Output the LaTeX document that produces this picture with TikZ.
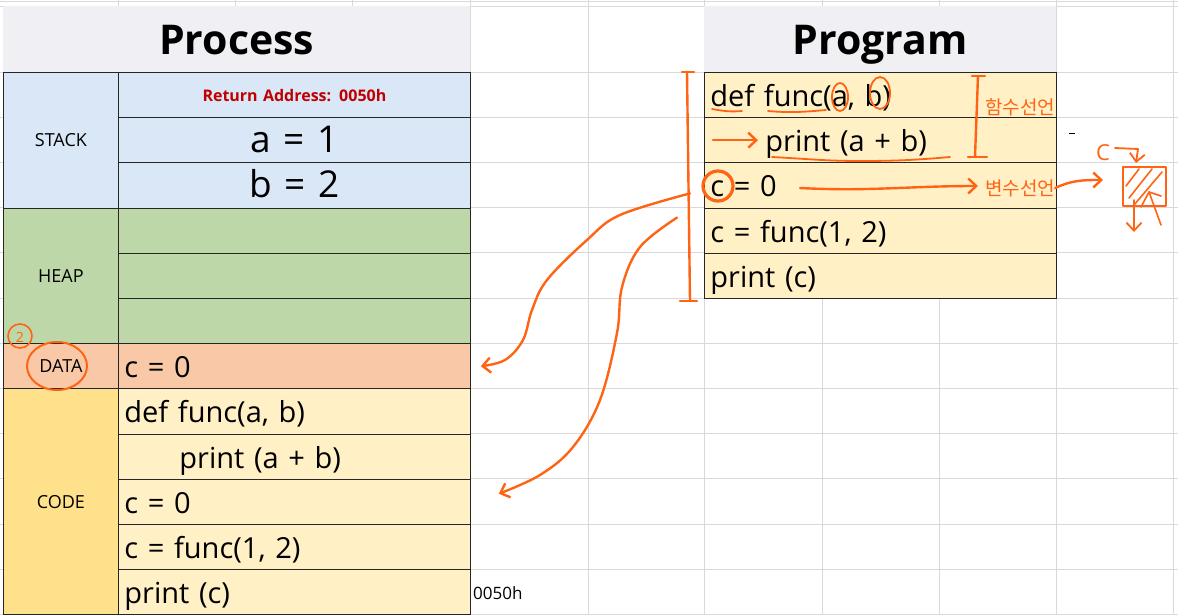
\documentclass[tikz,border=0pt]{standalone}
\usepackage{fontspec}
\setmainfont{Open Sans}[WordSpace=1.9]
\newfontfamily\kofont{Noto Sans CJK KR}
\usetikzlibrary{arrows.meta}

\definecolor{gridgray}{HTML}{D9D9D9}
\definecolor{headgray}{HTML}{F0EFF3}
\definecolor{stackblue}{HTML}{DAE7F7}
\definecolor{heapgreen}{HTML}{BDD7A8}
\definecolor{dataorange}{HTML}{F9C8A6}
\definecolor{codegold}{HTML}{FFE08B}
\definecolor{codecell}{HTML}{FFF0C6}
\definecolor{retred}{HTML}{C00000}
\definecolor{penorange}{HTML}{FF6414}

\newcommand{\cellfont}{\fontsize{29}{32}\selectfont}
\newcommand{\bigfont}{\fontsize{37}{40}\selectfont}
\newcommand{\tagfont}{\fontsize{18}{20}\selectfont}

\tikzset{
  gridline/.style={draw=gridgray, line width=0.8pt},
  headcell/.style={fill=headgray, anchor=north west, minimum height=66pt, inner sep=0pt, text height=30pt, text depth=0pt, font=\fontsize{41}{48}\selectfont\bfseries},
  tagcell/.style={draw=black!85, line width=0.8pt, anchor=north west, minimum width=115pt, inner sep=0pt, font=\tagfont},
  rowcell/.style={draw=black!85, line width=0.8pt, anchor=north west, minimum height=45.2pt, text width=340pt, inner xsep=6pt, inner ysep=0pt, text height=23pt, text depth=0pt, align=left, font=\cellfont},
  pen/.style={draw=penorange, line width=2.4pt, line cap=round, line join=round},
  hand/.style={text=penorange, inner sep=0pt, font=\kofont\fontsize{19}{22}\selectfont},
  >={Straight Barb[length=8pt,width=15pt]}
}

\begin{document}
\begin{tikzpicture}[x=1pt,y=-1pt]
	% sheet background and grid
	\fill[white] (0,0) rectangle (1178,615);
	\useasboundingbox (0,0) rectangle (1178,615);
	\foreach \gx in {118,235,352,470,588,704,822,939,1056,1173}
		\draw[gridline] (\gx,0) -- (\gx,615);
	\draw[gridline] (0,1) -- (1178,1);
	\draw[gridline] (0,6) -- (1178,6);
	\foreach \r in {0,...,12}
		\draw[gridline] (0,{72+45.2*\r}) -- (1178,{72+45.2*\r});

	% Process
	\node[headcell, minimum width=467pt] (proc) at (3,6) {Process};

	\node[tagcell, fill=stackblue, minimum height=135.6pt] (stack) at (3,72) {STACK};
	\node[rowcell, fill=stackblue, align=center, text height=13pt, font=\fontsize{16}{18}\selectfont\bfseries, text=retred] (ret) at (118,72) {Return Address: 0050h};
	\node[rowcell, fill=stackblue, align=center, text height=25pt, font=\bigfont] (vara) at (118,117.2) {a = 1};
	\node[rowcell, fill=stackblue, align=center, text height=25pt, font=\bigfont] (varb) at (118,162.4) {b = 2};

	\node[tagcell, fill=heapgreen, minimum height=135.6pt] (heap) at (3,207.6) {HEAP};
	\node[rowcell, fill=heapgreen] (heap1) at (118,207.6) {};
	\node[rowcell, fill=heapgreen] (heap2) at (118,252.8) {};
	\node[rowcell, fill=heapgreen] (heap3) at (118,298) {};

	\node[tagcell, fill=dataorange, minimum height=45.2pt] (data) at (3,343.2) {DATA};
	\node[rowcell, fill=dataorange] (datarow) at (118,343.2) {c = 0};

	\node[tagcell, fill=codegold, minimum height=226pt] (code) at (3,388.4) {CODE};
	\node[rowcell, fill=codecell] (code1) at (118,388.4) {def func(a, b)};
	\node[rowcell, fill=codecell] (code2) at (118,433.6) {\hspace*{55pt}print (a + b)};
	\node[rowcell, fill=codecell] (code3) at (118,478.8) {c = 0};
	\node[rowcell, fill=codecell] (code4) at (118,524) {c = func(1, 2)};
	\node[rowcell, fill=codecell] (code5) at (118,569.2) {print (c)};

	\node[anchor=west, inner sep=0pt, font=\fontsize{17}{20}\selectfont] (addr) at (473,593) {0050h};

	% Program
	\node[headcell, minimum width=352pt] (prog) at (704,6) {Program};
	\node[rowcell, fill=codecell] (prg1) at (704,72) {def func(a, b)};
	\node[rowcell, fill=codecell] (prg2) at (704,117.2) {\hspace*{55pt}print (a + b)};
	\node[rowcell, fill=codecell] (prg3) at (704,162.4) {c = 0};
	\node[rowcell, fill=codecell] (prg4) at (704,207.6) {c = func(1, 2)};
	\node[rowcell, fill=codecell] (prg5) at (704,252.8) {print (c)};

	\draw[line width=0.8pt] (1069,133) -- (1075,133); % stray mark

	% hand-drawn notes
	\draw[pen] (682,72) -- (694,72);
	\draw[pen] (687,72) -- (690,301);
	\draw[pen] (680,301) -- (697,301);

	\draw[pen] (972,76) -- (985,76);
	\draw[pen] (978,76) -- (975,157);
	\draw[pen] (968,157) -- (987,157);
	\node[hand] (fdecl) at (1020,107) {함수선언};

	\draw[pen, line width=1.8pt] (712,109) to[out=-10,in=185] (742,111);
	\draw[pen, line width=1.8pt] (768,111) to[out=-5,in=185] (826,110);
	\draw[pen, line width=1.8pt] (840,97) ellipse [x radius=8pt, y radius=14pt];
	\draw[pen, line width=1.8pt] (880,93) ellipse [x radius=10pt, y radius=16pt];
	\draw[pen, ->] ([xshift=9pt]prg2.west) -- ([xshift=54pt]prg2.west);
	\draw[pen, line width=1.8pt] (772,157) to[out=-3,in=180] (860,161) to[out=0,in=185] (950,157);

	\draw[pen, line width=3.2pt] (718,186) circle [radius=15pt];
	\draw[pen, ->] (800,188) to[out=-3,in=180] (978,186);
	\node[hand] (vdecl) at (1020,188) {변수선언};
	\draw[pen, ->] (vdecl.east) to[out=25,in=180] (1103,180);

	\node[hand, font=\fontsize{22}{24}\selectfont] (cname) at (1103,153) {C};
	\draw[pen, line width=1.8pt, ->] (1115,148) -- (1138,149) -- (1136,163);
	\draw[pen] (1123,167) rectangle (1166,206);
	\draw[pen, line width=1.6pt] (1126,186) -- (1139,169);
	\draw[pen, line width=1.6pt] (1129,198) -- (1152,169);
	\draw[pen, line width=1.6pt] (1134,205) -- (1162,172);
	\draw[pen, line width=1.6pt] (1141,207) -- (1149,192) -- (1161,225);
	\draw[pen, line width=1.6pt] (1149,192) -- (1161,196);
	\draw[pen, line width=1.8pt, ->] (1134,200) -- (1134,232);

	\draw[pen, line width=2pt] (57,366) ellipse [x radius=30pt, y radius=24pt];
	\draw[pen, line width=1.6pt] (20,336) circle [radius=12pt];
	\node[hand, font=\fontsize{14}{16}\selectfont] (mark) at (20,337) {2};

	\draw[pen, ->] plot[smooth, tension=0.6] coordinates {([xshift=-14pt,yshift=-8pt]prg3.west) (620,215) (587,240) (547,280) (532,310) (523,340) (505,360) ([xshift=10pt]datarow.east)};
	\draw[pen, ->] plot[smooth, tension=0.6] coordinates {([xshift=-27pt,yshift=13pt]prg4.west) (640,247) (622,287) (617,333) (600,400) (573,447) (540,475) ([xshift=28pt,yshift=8pt]code3.east)};
\end{tikzpicture}
\end{document}
